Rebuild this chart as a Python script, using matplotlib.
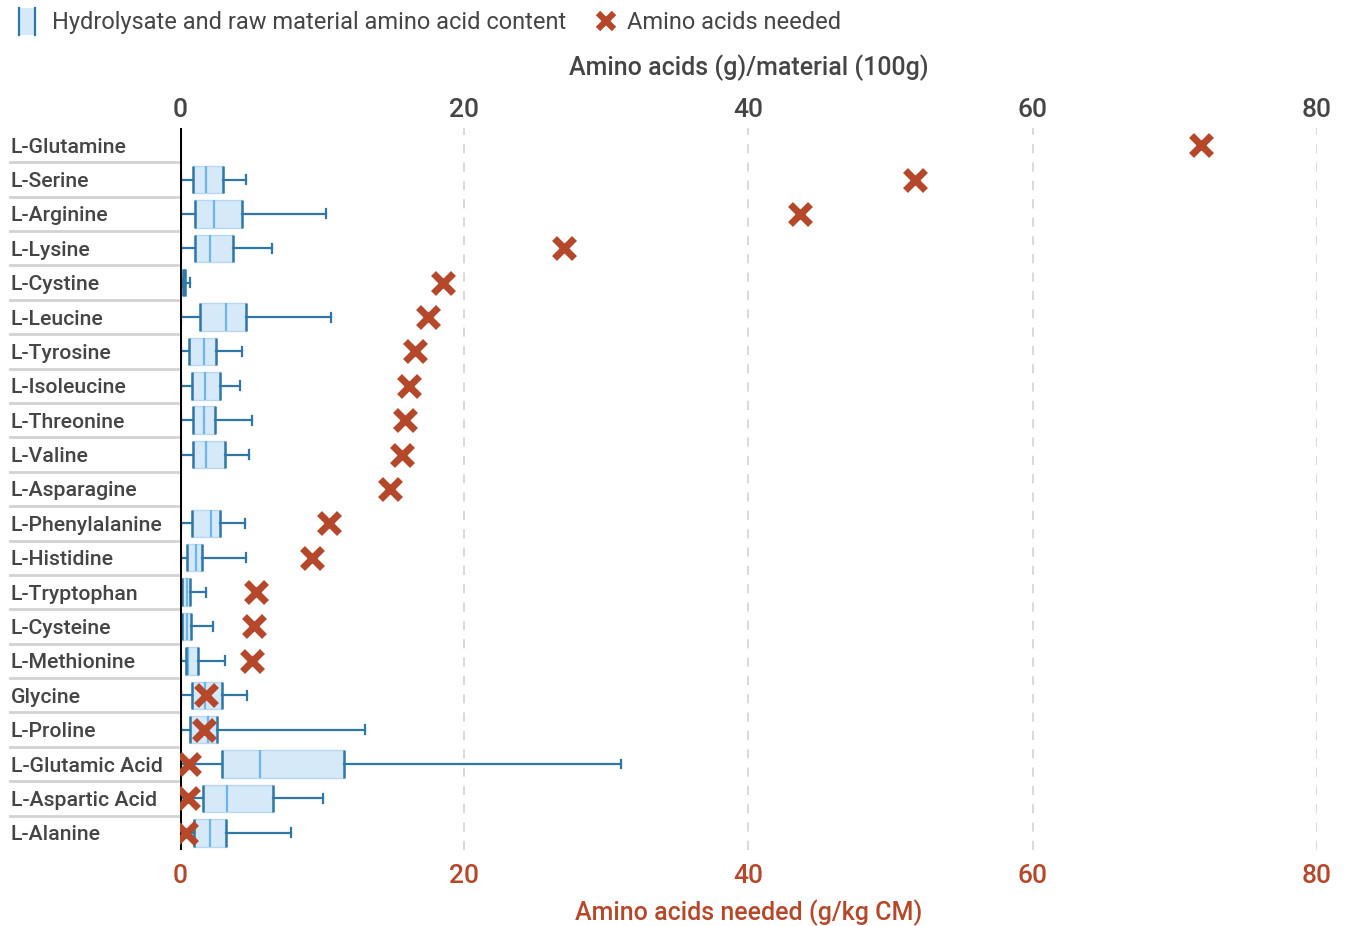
import matplotlib.pyplot as plt
import numpy as np
from matplotlib.lines import Line2D
from matplotlib.patches import Rectangle
from matplotlib.legend_handler import HandlerBase

plt.rcParams['font.family'] = ['Roboto', 'DejaVu Sans']
plt.rcParams['font.weight'] = 'medium'
plt.rcParams['axes.labelweight'] = 'medium'

amino = ['L-Glutamine', 'L-Serine', 'L-Arginine', 'L-Lysine', 'L-Cystine',
         'L-Leucine', 'L-Tyrosine', 'L-Isoleucine', 'L-Threonine', 'L-Valine',
         'L-Asparagine', 'L-Phenylalanine', 'L-Histidine', 'L-Tryptophan',
         'L-Cysteine', 'L-Methionine', 'Glycine', 'L-Proline',
         'L-Glutamic Acid', 'L-Aspartic Acid', 'L-Alanine']

# content in hydrolysates / raw materials, g per 100 g (nan = not measured)
low = [np.nan, 0.05, 0.05, 0.05, 0.2, 0.05, 0.05, 0.05, 0.05, 0.05,
       np.nan, 0.05, 0.05, 0.1, 0.1, 0.05, 0.05, 0.05, 0.05, 0.05, 0.05]
q1 = [np.nan, 0.94, 1.08, 1.03, 0.22, 1.38, 0.63, 0.84, 0.89, 0.89,
      np.nan, 0.82, 0.49, 0.14, 0.17, 0.43, 0.86, 0.72, 2.93, 1.61, 1.0]
med = [np.nan, 1.83, 2.37, 2.09, 0.28, 3.24, 1.67, 1.76, 1.69, 1.83,
       np.nan, 2.16, 1.13, 0.5, 0.5, 0.6, 1.78, 1.98, 5.66, 3.3, 2.13]
q3 = [np.nan, 3.05, 4.36, 3.73, 0.36, 4.63, 2.56, 2.79, 2.44, 3.14,
      np.nan, 2.84, 1.53, 0.68, 0.8, 1.29, 2.93, 2.64, 11.52, 6.55, 3.27]
high = [np.nan, 4.64, 10.25, 6.48, 0.68, 10.63, 4.36, 4.24, 5.07, 4.83,
        np.nan, 4.55, 4.64, 1.83, 2.32, 3.16, 4.74, 13.04, 31.0, 10.05, 7.84]

# requirement, g/kg CM
needed = [71.85, 51.7, 43.6, 26.99, 18.5, 17.47, 16.53, 16.09, 15.8, 15.62,
          14.8, 10.49, 9.29, 5.35, 5.21, 5.07, 1.83, 1.69, 0.63, 0.56, 0.42]

ticks = [0, 20, 40, 60, 80]

fill = '#d5e9f9'
dark_blue = '#2e77a6'
mid_blue = '#6fb6e8'
rust = '#b5482a'
grey_txt = '#454545'

n = len(amino)
pos = np.arange(n)

fig = plt.figure(figsize=(13.45, 9.26), dpi=100)
ax = fig.add_axes([0.1338, 0.0821, 0.8454, 0.7797])
ax2 = ax.twiny()

stats = []
positions = []
for i in range(n):
    if np.isnan(q1[i]):
        continue
    stats.append(dict(whislo=low[i], q1=q1[i], med=med[i], q3=q3[i],
                      whishi=high[i], fliers=[]))
    positions.append(i)
positions = np.array(positions)

ax.bxp(stats, positions=positions, orientation='horizontal', widths=0.8,
       patch_artist=True, showfliers=False,
       boxprops=dict(facecolor=fill, edgecolor='#b9d8f0', linewidth=1),
       medianprops=dict(color=mid_blue, linewidth=1.6),
       whiskerprops=dict(color=dark_blue, linewidth=1.6),
       capprops=dict(color=dark_blue, linewidth=1.6), capwidths=0.26)
# darker quartile edges
qa = np.array(q1)[positions]
qb = np.array(q3)[positions]
ax.vlines(qa, positions - 0.4, positions + 0.4, color=dark_blue, lw=1.8, zorder=3)
ax.vlines(qb, positions - 0.4, positions + 0.4, color=dark_blue, lw=1.8, zorder=3)

ax2.plot(needed, pos, linestyle='none', marker='x', markersize=14,
         color=rust, markeredgewidth=5, zorder=5)

for a in (ax, ax2):
    a.set_xlim(0, 80)
    a.set_ylim(n - 0.5, -0.5)
    for s in ('top', 'right', 'bottom', 'left'):
        a.spines[s].set_visible(False)

ax.axvline(0, color='black', lw=2.2, zorder=4)
for t in ticks[1:]:
    ax.axvline(t, color='#cfcfcf', lw=1.1, ls=(0, (6, 6)), zorder=0)

ax.xaxis.set_ticks_position('top')
ax.xaxis.set_label_position('top')
ax.set_xticks(ticks)
ax.tick_params(axis='x', length=0, pad=4, labelsize=19, labelcolor=grey_txt)
ax.set_xlabel('Amino acids (g)/material (100g)', fontsize=18, color=grey_txt,
              labelpad=17)

ax2.xaxis.set_ticks_position('bottom')
ax2.xaxis.set_label_position('bottom')
ax2.set_xticks(ticks)
ax2.tick_params(axis='x', length=0, pad=10, labelsize=19, labelcolor=rust)
ax2.set_xlabel('Amino acids needed (g/kg CM)', fontsize=18, color=rust,
               labelpad=8)
ax2.set_yticks([])

ax.set_yticks(pos)
ax.set_yticklabels(amino, fontsize=15.3, color=grey_txt)
ax.tick_params(axis='y', length=0, pad=122)
for lab in ax.get_yticklabels():
    lab.set_horizontalalignment('left')

# separators between category labels
ytr = ax.get_yaxis_transform()
for y in pos[:-1] + 0.5:
    ax.plot([-0.1495, -0.002], [y, y], color='#d3d3d3', lw=2,
            transform=ytr, clip_on=False)


class BoxHandle(HandlerBase):
    def create_artists(self, legend, orig, xd, yd, w, h, fontsize, trans):
        bw = h * 1.0
        x0 = xd + (w - bw) / 2 - w / 2 + bw / 2
        y0 = yd - h * 0.35
        hh = h * 1.6
        r = Rectangle((x0, y0), bw, hh, facecolor=fill, edgecolor='none',
                      transform=trans)
        l1 = Line2D([x0, x0], [y0, y0 + hh], color=dark_blue, lw=1.6,
                    transform=trans)
        l2 = Line2D([x0 + bw, x0 + bw], [y0, y0 + hh], color=dark_blue,
                    lw=1.6, transform=trans)
        return [r, l1, l2]


box_h = Rectangle((0, 0), 1, 1)
x_h = Line2D([], [], linestyle='none', marker='x', markersize=12,
             color=rust, markeredgewidth=4.5)
leg = fig.legend([box_h, x_h],
                 ['Hydrolysate and raw material amino acid content',
                  'Amino acids needed'],
                 handler_map={box_h: BoxHandle()},
                 loc='upper left', bbox_to_anchor=(-0.002, 1.011), ncol=2,
                 frameon=False, fontsize=17, handlelength=1.0,
                 handletextpad=0.4, columnspacing=1.2, labelcolor=grey_txt)
for txt in leg.get_texts():
    txt.set_fontweight('normal')

fig.savefig('out.png', dpi=100)
